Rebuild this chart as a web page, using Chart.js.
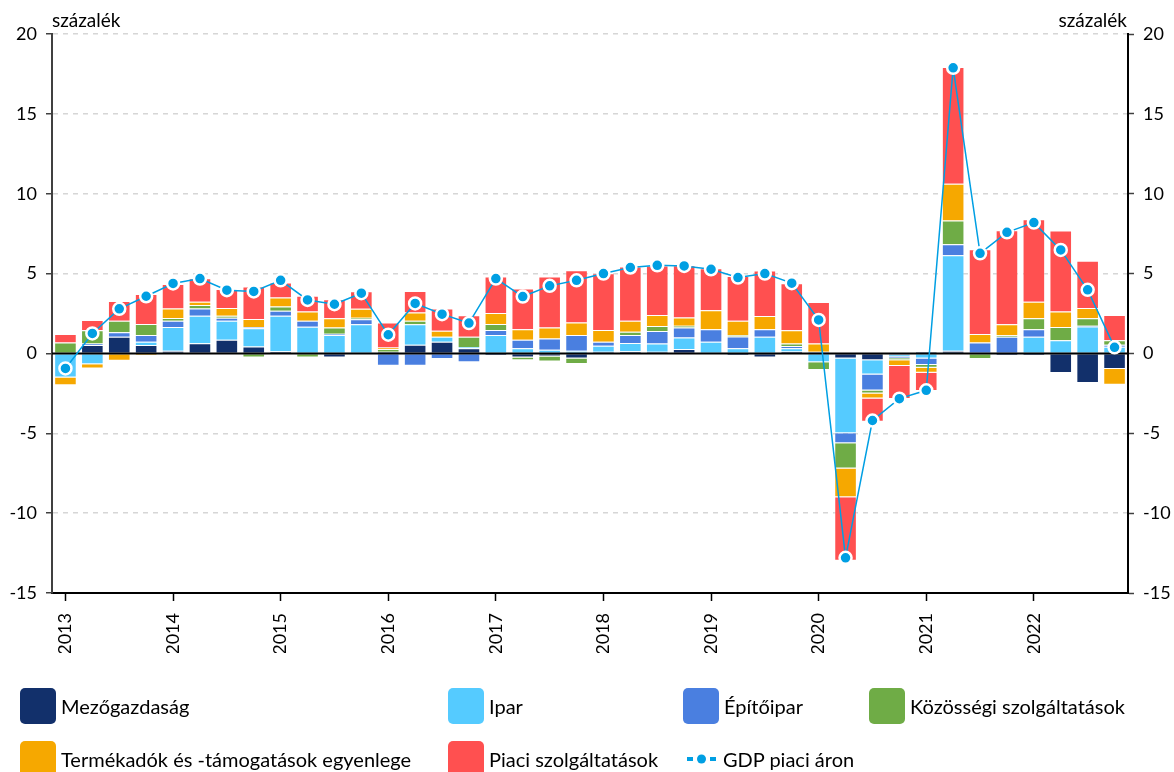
<!DOCTYPE html>
<html>
<head>
<meta charset="utf-8">
<script src="https://cdn.jsdelivr.net/npm/chart.js@4.4.1/dist/chart.umd.min.js"></script>
<style>
  body { margin: 0; background: #fff; font-family: Lato, sans-serif; }
  #wrap { position: relative; width: 1174px; height: 772px; overflow: hidden; }
  #chart { position: absolute; left: 0; top: 0; }
  .lg { position: absolute; display: flex; align-items: center; font-size: 20px; color: #000; white-space: nowrap; height: 36px; }
  .lg .box { width: 36px; height: 36px; border-radius: 5px; margin-right: 5px; }
  .lg svg { margin-right: 7px; }
</style>
</head>
<body>
<div id="wrap">
  <canvas id="chart" width="1174" height="772"></canvas>
  <div id="legend"></div>
</div>
<script>
// negyedévek 2013 I. - 2022 IV.
const quarters = [
  '2013 I.', '2013 II.', '2013 III.', '2013 IV.',
  '2014 I.', '2014 II.', '2014 III.', '2014 IV.',
  '2015 I.', '2015 II.', '2015 III.', '2015 IV.',
  '2016 I.', '2016 II.', '2016 III.', '2016 IV.',
  '2017 I.', '2017 II.', '2017 III.', '2017 IV.',
  '2018 I.', '2018 II.', '2018 III.', '2018 IV.',
  '2019 I.', '2019 II.', '2019 III.', '2019 IV.',
  '2020 I.', '2020 II.', '2020 III.', '2020 IV.',
  '2021 I.', '2021 II.', '2021 III.', '2021 IV.',
  '2022 I.', '2022 II.', '2022 III.', '2022 IV.'
];
const yearTicks = ['2013', '2014', '2015', '2016', '2017', '2018', '2019', '2020', '2021', '2022'];

const mezogazdasag = [0, 0.52, 1.04, 0.52, 0.17, 0.63, 0.85, 0.44, 0.13, 0, -0.25, 0,
  0.1, 0.54, 0.73, 0.33, -0.15, -0.25, -0.2, -0.31, 0.1, 0.13, 0.1, 0.27,
  0, -0.15, -0.25, 0.12, 0, -0.31, -0.42, -0.1, 0.1, 0.17, 0, -0.15, -0.15, -1.23, -1.85, -0.98];
const ipar = [-1.5, -0.67, 0, 0.21, 1.48, 1.73, 1.19, 1.13, 2.23, 1.67, 1.15, 1.83,
  0, 1.29, 0.31, 0.08, 1.15, 0.33, 0.23, 0.17, 0.38, 0.52, 0.52, 0.73,
  0.73, 0.33, 1.04, 0.2, -0.55, -4.69, -0.9, -0.1, -0.31, 5.98, 0, 0, 1.04, 0.83, 1.69, 0.42];
const epitoipar = [0, 0.1, 0.29, 0.42, 0.4, 0.46, 0.19, 0.08, 0.31, 0.38, 0.08, 0.31,
  -0.77, -0.77, -0.35, -0.56, 0.31, 0.52, 0.71, 0.98, 0.25, 0.5, 0.79, 0.63,
  0.79, 0.73, 0.48, 0.15, 0.1, -0.63, -1.0, -0.1, -0.42, 0.68, 0.69, 1.04, 0.48, 0, 0.04, 0.13];
const kozossegi = [0.69, 0.83, 0.71, 0.69, 0.17, 0.21, 0.13, -0.25, 0.27, -0.25, 0.4, 0.1,
  0.17, 0.21, 0, 0.63, 0.38, -0.17, -0.31, -0.35, 0, 0.21, 0.31, 0.1,
  0, 0.08, 0, 0.15, -0.48, -1.58, -0.19, -0.13, -0.17, 1.5, -0.35, 0.1, 0.69, 0.83, 0.48, 0.27];
const termekadok = [-0.5, -0.27, -0.46, -0.15, 0.6, 0.21, 0.48, 0.5, 0.56, 0.58, 0.58, 0.56,
  0.1, 0.52, 0.38, 0, 0.69, 0.67, 0.69, 0.79, 0.73, 0.69, 0.69, 0.52,
  1.19, 0.9, 0.83, 0.83, 0.52, -1.79, -0.31, -0.35, -0.31, 2.29, 0.52, 0.69, 1.02, 0.96, 0.63, -0.98];
const piaci = [0.52, 0.65, 1.25, 1.88, 1.52, 1.46, 1.19, 2.04, 0.94, 0.98, 1.19, 1.1,
  1.56, 1.35, 1.4, 1.35, 2.29, 2.55, 3.19, 3.27, 3.56, 3.4, 3.1, 3.27,
  2.63, 2.81, 2.85, 2.94, 2.6, -3.98, -1.46, -2.08, -1.15, 7.31, 5.31, 5.88, 5.17, 5.08, 2.96, 1.58];
const gdp = [-0.94, 1.25, 2.79, 3.58, 4.38, 4.69, 3.96, 3.88, 4.58, 3.35, 3.08, 3.77,
  1.17, 3.13, 2.46, 1.9, 4.69, 3.56, 4.23, 4.58, 5.0, 5.38, 5.52, 5.48,
  5.27, 4.75, 5.0, 4.4, 2.1, -12.8, -4.2, -2.83, -2.31, 17.88, 6.27, 7.58, 8.19, 6.48, 3.98, 0.38];

const yTicks = [-15, -10, -5, 0, 5, 10, 15, 20];

const colors = {
  mezo: '#12306b', ipar: '#55cbff', epito: '#4a7fe0',
  kozossegi: '#6fac46', termek: '#f6a800', piaci: '#ff5050', gdp: '#009fe3'
};

const tickFont = { family: 'Lato', size: 18 };

function bar(label, data, color) {
  return {
    type: 'bar', label: label, data: data, backgroundColor: color,
    borderColor: 'rgba(255,255,255,0.35)', borderWidth: 1,
    barPercentage: 0.84, categoryPercentage: 1, order: 1
  };
}

// nulla vonal + "százalék" feliratok
const extras = {
  id: 'extras',
  beforeDatasetDraw(chart, args) {
    if (args.meta.type !== 'line') return;
    const c = chart.ctx, a = chart.chartArea;
    const y0 = chart.scales.y.getPixelForValue(0);
    c.save();
    c.strokeStyle = '#000';
    c.lineWidth = 2;
    c.beginPath();
    c.moveTo(a.left, y0);
    c.lineTo(a.right, y0);
    c.stroke();
    c.restore();
  },
  afterDraw(chart) {
    const c = chart.ctx, a = chart.chartArea;
    c.save();
    c.font = '19px Lato';
    c.fillStyle = '#000';
    c.textBaseline = 'alphabetic';
    c.textAlign = 'left';
    c.fillText('százalék', a.left, 27);
    c.textAlign = 'right';
    c.fillText('százalék', a.right - 1, 27);
    c.restore();
  }
};

const yTickOpts = {
  min: -15, max: 20,
  afterBuildTicks: s => { s.ticks = yTicks.map(v => ({ value: v })); },
};

new Chart(document.getElementById('chart'), {
  type: 'bar',
  data: {
    labels: quarters,
    datasets: [
      bar('Mezőgazdaság', mezogazdasag, colors.mezo),
      bar('Ipar', ipar, colors.ipar),
      bar('Építőipar', epitoipar, colors.epito),
      bar('Közösségi szolgáltatások', kozossegi, colors.kozossegi),
      bar('Termékadók és -támogatások egyenlege', termekadok, colors.termek),
      bar('Piaci szolgáltatások', piaci, colors.piaci),
      {
        type: 'line', label: 'GDP piaci áron', data: gdp, stack: 'gdp', order: 0,
        borderColor: colors.gdp, borderWidth: 1.5,
        pointRadius: 6, pointBackgroundColor: colors.gdp,
        pointBorderColor: '#fff', pointBorderWidth: 2.5, tension: 0
      }
    ]
  },
  options: {
    responsive: false,
    animation: false,
    layout: { padding: { top: 34, bottom: 119, left: 0, right: 0 } },
    plugins: { legend: { display: false }, tooltip: { enabled: false } },
    scales: {
      x: {
        stacked: true,
        grid: {
          offset: false, drawOnChartArea: false, tickLength: 8, tickWidth: 1.5,
          tickColor: c => (c.index % 4 === 0 ? '#000' : 'rgba(0,0,0,0)')
        },
        border: { color: '#000', width: 2 },
        ticks: {
          autoSkip: false, maxRotation: 90, minRotation: 90, padding: 12,
          font: tickFont, color: '#000',
          callback: (v, i) => (i % 4 === 0 ? yearTicks[i / 4] : '')
        },
        afterFit: s => { s.height = 60; }
      },
      y: {
        ...yTickOpts,
        stacked: true,
        grid: {
          color: c => (c.tick && c.tick.value === 0 || c.tick && c.tick.value === -15 ? 'rgba(0,0,0,0)' : '#d6d6d6'),
          lineWidth: 1.5, tickLength: 6, tickColor: '#404040', tickWidth: 1.5
        },
        border: { color: '#404040', width: 2, dash: [5, 5] },
        ticks: { font: tickFont, color: '#000', padding: 9 },
        afterFit: s => { s.width = 52; }
      },
      y2: {
        ...yTickOpts,
        position: 'right',
        grid: { drawOnChartArea: false, tickLength: 6, tickColor: '#404040', tickWidth: 1.5 },
        border: { color: '#000', width: 2 },
        ticks: { font: tickFont, color: '#000', padding: 9 },
        afterFit: s => { s.width = 46; }
      }
    }
  },
  plugins: [extras]
});

// jelmagyarázat
const legendItems = [
  { label: 'Mezőgazdaság', color: colors.mezo, left: 20, top: 688 },
  { label: 'Ipar', color: colors.ipar, left: 448, top: 688 },
  { label: 'Építőipar', color: colors.epito, left: 683, top: 688 },
  { label: 'Közösségi szolgáltatások', color: colors.kozossegi, left: 869, top: 688 },
  { label: 'Termékadók és -támogatások egyenlege', color: colors.termek, left: 20, top: 741 },
  { label: 'Piaci szolgáltatások', color: colors.piaci, left: 448, top: 741 },
  { label: 'GDP piaci áron', color: colors.gdp, left: 687, top: 741, line: true }
];
const legendEl = document.getElementById('legend');
legendItems.forEach(it => {
  const d = document.createElement('div');
  d.className = 'lg';
  d.style.left = it.left + 'px';
  d.style.top = it.top + 'px';
  if (it.line) {
    d.innerHTML = '<svg width="29" height="12"><rect x="0" y="4" width="6" height="4" fill="' + it.color + '"/>' +
      '<circle cx="14.5" cy="6" r="4.5" fill="' + it.color + '"/>' +
      '<rect x="23" y="4" width="6" height="4" fill="' + it.color + '"/></svg>';
  } else {
    d.innerHTML = '<div class="box" style="background:' + it.color + '"></div>';
  }
  const t = document.createElement('span');
  t.textContent = it.label;
  d.appendChild(t);
  legendEl.appendChild(d);
});
</script>
</body>
</html>
